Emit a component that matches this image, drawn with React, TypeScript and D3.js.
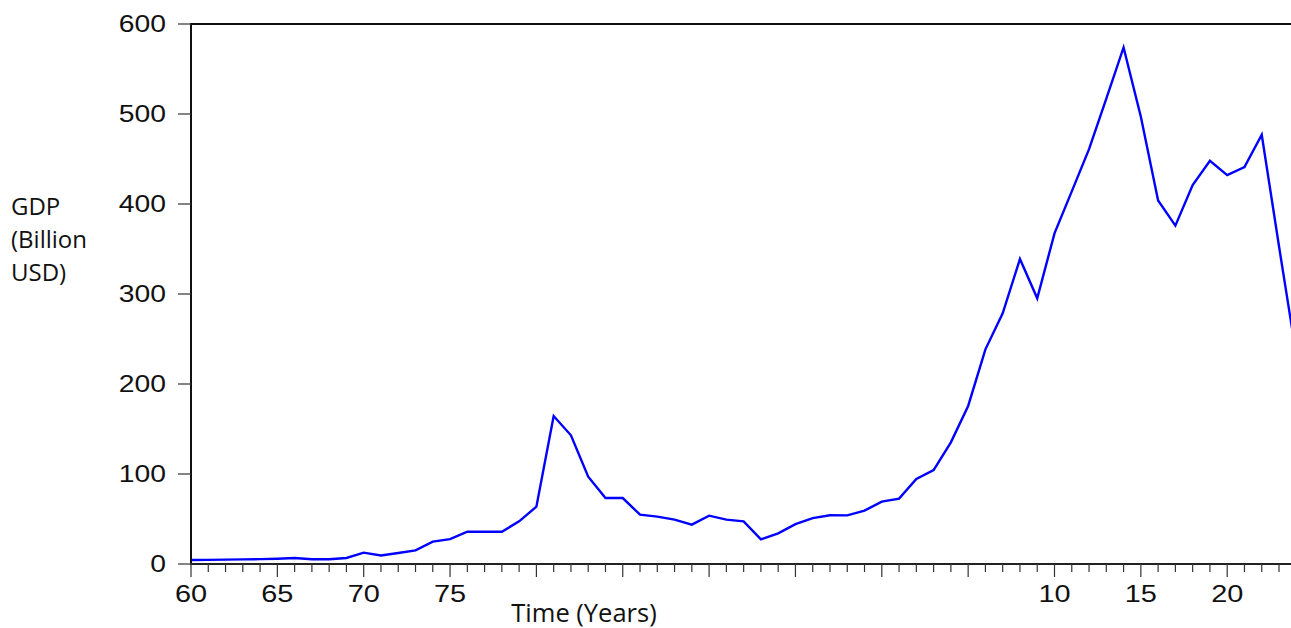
import React from "react";
import * as d3 from "d3";

// Annual GDP, billions of US dollars
const years: number[] = d3.range(1960, 2025);
const gdp: number[] = [
  4.4, 4.6, 4.9, 5.1, 5.4, 5.9, 6.7, 5.2, 5.2, 6.7,
  12.6, 9.4, 12.2, 15.2, 24.8, 27.6, 35.9, 35.8, 35.9, 47.4,
  63.7, 164.4, 143.0, 97.0, 73.3, 73.3, 54.8, 52.6, 49.3, 43.7,
  53.7, 49.3, 47.4, 27.4, 34.0, 44.2, 51.0, 54.2, 54.0, 59.3,
  69.3, 72.6, 94.4, 104.4, 135.2, 175.6, 238.5, 278.5, 338.9, 295.2,
  367.4, 414.0, 461.0, 517.0, 574.0, 497.0, 404.0, 376.0, 421.0, 448.0,
  432.0, 441.0, 477.0, 353.0, 232.0,
];

const yTicks: number[] = [0, 100, 200, 300, 400, 500, 600];
const majorYears: number[] = d3.range(1960, 2025, 5);
const labeledYears: number[] = [1960, 1965, 1970, 1975, 2010, 2015, 2020];
const yTitleLines: string[] = ["GDP", "(Billion", "USD)"];
const xTitle = "Time (Years)";

const W = 1291;
const H = 628;
const left = 191;
const top = 24;
const bottom = 564;
const yearStep = 17.27;

const x = d3
  .scaleLinear()
  .domain([1960, 2024])
  .range([left, left + 64 * yearStep]);
const y = d3.scaleLinear().domain([0, 600]).range([bottom, top]);

const line = d3
  .line<number>()
  .x((_, i) => x(years[i]))
  .y((d) => y(d));

const numFont = "'Liberation Sans', Arial, sans-serif";
const textFont = "'Open Sans', 'Noto Sans', sans-serif";
const stretch = 1.23;

export default function App() {
  return (
    <svg
      width={W}
      height={H}
      style={{ position: "absolute", left: 0, top: 0, background: "#fff" }}
    >
      {/* series */}
      <path
        d={line(gdp) ?? ""}
        fill="none"
        stroke="#0000ff"
        strokeWidth={2.4}
        strokeLinejoin="miter"
      />

      {/* frame */}
      <line x1={left} x2={W + 10} y1={top} y2={top} stroke="#111" strokeWidth={2} />
      <line x1={left} x2={left} y1={top - 1} y2={bottom + 1} stroke="#111" strokeWidth={2} />
      <line x1={left - 1} x2={W + 10} y1={bottom} y2={bottom} stroke="#222" strokeWidth={2} />

      {/* y axis */}
      {yTicks.map((v) => (
        <g key={`y${v}`}>
          <line x1={left - 13} x2={left} y1={y(v)} y2={y(v)} stroke="#333" strokeWidth={1.2} />
          <text
            transform={`translate(166,${y(v) + 7.5}) scale(${stretch},1)`}
            textAnchor="end"
            fontFamily={numFont}
            fontSize={23}
            fill="#111"
          >
            {v}
          </text>
        </g>
      ))}

      {/* x axis ticks */}
      {years.map((yr) => {
        const major = majorYears.includes(yr);
        return (
          <line
            key={`t${yr}`}
            x1={x(yr)}
            x2={x(yr)}
            y1={bottom}
            y2={bottom + (major ? 13 : 8)}
            stroke="#333"
            strokeWidth={1.2}
          />
        );
      })}
      {labeledYears.map((yr) => (
        <text
          key={`l${yr}`}
          transform={`translate(${x(yr)},${bottom + 38}) scale(${stretch},1)`}
          textAnchor="middle"
          fontFamily={numFont}
          fontSize={23.5}
          fill="#111"
        >
          {String(yr % 100).padStart(2, "0")}
        </text>
      ))}

      {/* axis titles */}
      <text x={584} y={622} textAnchor="middle" fontFamily={textFont} fontSize={25.5} fill="#111">
        {xTitle}
      </text>
      {yTitleLines.map((t, i) => (
        <text key={t} x={11} y={215 + i * 33} fontFamily={textFont} fontSize={24} fill="#111">
          {t}
        </text>
      ))}
    </svg>
  );
}
